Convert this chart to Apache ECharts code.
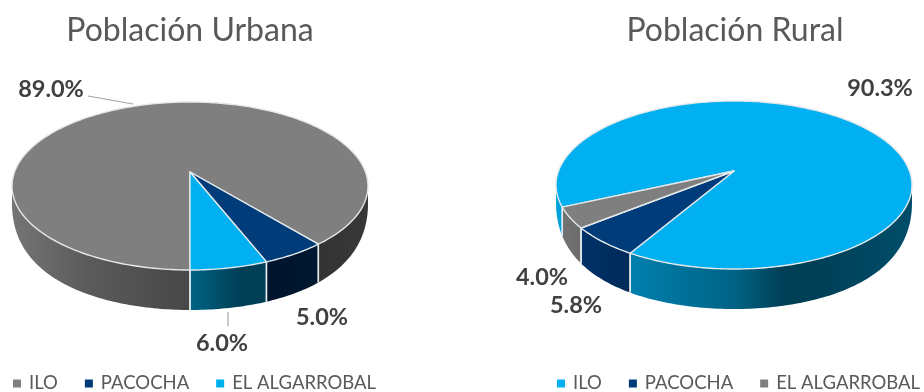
<!DOCTYPE html>
<html><head><meta charset="utf-8">
<style>html,body{margin:0;padding:0;background:#fff}#c{width:924px;height:392px;filter:blur(0.5px)}</style>
<script src="https://cdn.jsdelivr.net/npm/echarts@6/dist/echarts.min.js"></script></head>
<body><div id="c"></div>
<script>
const categories = ['ILO', 'PACOCHA', 'EL ALGARROBAL'];
const urbanaValues = [89.0, 5.0, 6.0];
const ruralValues = [90.3, 5.8, 4.0];
const urbanaTitle = 'Población Urbana';
const ruralTitle = 'Población Rural';

const GRAY = '#7f7f7f', NAVY = '#003b7a', BLUE = '#00b0f0';
const urbanaColors = [GRAY, NAVY, BLUE];
const ruralColors = [BLUE, NAVY, GRAY];

// Perspective model of the tilted disc
const A = 175.5, B = 81.67, K = 1 / 6, R = 178;
const depth = v => 40 - 32 * (1 - v) * (1 - v);
const VIS = Math.acos(K) * 180 / Math.PI;
const RAD = Math.PI / 180;
const SHADE = [[0, .92], [.21, .72], [.5, .56], [.64, .36], [.72, .36], [1, .44]];

function shaded(hex, f) {
  const n = parseInt(hex.slice(1), 16);
  return 'rgb(' + [(n >> 16) & 255, (n >> 8) & 255, n & 255].map(c => Math.round(c * f)).join(',') + ')';
}
function rim(cx, cy, phi) {
  const u = -Math.sin(phi * RAD), v = Math.cos(phi * RAD), d = 1 - K * v;
  return [cx + A * u / d, cy + B * v / d, v];
}
function arc(cx, cy, a, b) {
  const pts = [], n = Math.max(2, Math.ceil(Math.abs(b - a)));
  for (let i = 0; i <= n; i++) pts.push(rim(cx, cy, a + (b - a) * i / n));
  return pts;
}

const pies = [
  { values: urbanaValues, colors: urbanaColors, cx: 190, cy: 172, start: 0,
    labels: [[51, 89], [322, 317], [222, 343]],
    leaders: [[[88, 96], [133, 104]], null, [[228, 312], [228, 326]]] },
  { values: ruralValues, colors: ruralColors, cx: 734, cy: 171, start: 65.7,
    labels: [[880, 88], [576, 305], [542, 277]],
    leaders: [null, null, null] }
];

function makeRender(pie, idx) {
  return function (params, api) {
    const total = pie.values.reduce((a, b) => a + b, 0);
    let before = 0;
    for (let i = 0; i < idx; i++) before += pie.values[i];
    const val = api.value(0);
    const s = pie.start + before / total * 360, e = s + val / total * 360;
    const { cx, cy } = pie, color = pie.colors[idx], children = [];
    const fill = {
      type: 'linear', global: true, x: cx - R, y: 0, x2: cx + R, y2: 0,
      colorStops: SHADE.map(p => ({ offset: p[0], color: shaded(color, p[1]) }))
    };
    // visible outer wall
    for (const off of [0, 360, 720]) {
      const a = Math.max(s, off - VIS), b = Math.min(e, off + VIS);
      if (b <= a) continue;
      const top = arc(cx, cy, a, b);
      const low = top.map(p => [p[0], p[1] + depth(p[2])]).reverse();
      children.push({
        type: 'polygon', z2: 1,
        shape: { points: top.map(p => [p[0], p[1]]).concat(low) },
        style: { fill: fill, stroke: null }
      });
    }
    // wall separators at the slice boundaries
    for (const ang of [s, e]) {
      const p = rim(cx, cy, ang);
      if (p[2] >= K) children.push({
        type: 'line', z2: 2,
        shape: { x1: p[0], y1: p[1], x2: p[0], y2: p[1] + depth(p[2]) },
        style: { stroke: '#e6eef2', lineWidth: 1.4 }
      });
    }
    // top face
    const face = [[cx, cy]].concat(arc(cx, cy, s, e).map(p => [p[0], p[1]]));
    children.push({
      type: 'polygon', z2: 5 + (idx === 0 ? 0 : 1),
      shape: { points: face },
      style: { fill: color, stroke: '#e4e8ea', lineWidth: 1.4, lineJoin: 'round' }
    });
    // leader and label
    const lead = pie.leaders[idx];
    if (lead) children.push({
      type: 'polyline', z2: 3,
      shape: { points: lead },
      style: { fill: null, stroke: '#a6a6a6', lineWidth: 1.2 }
    });
    const lab = pie.labels[idx];
    children.push({
      type: 'text', z2: 8, x: lab[0], y: lab[1],
      style: {
        text: val.toFixed(1) + '%', fill: '#404040',
        font: 'bold 23.5px Lato, sans-serif', align: 'center', verticalAlign: 'middle'
      }
    });
    return { type: 'group', children };
  };
}

const series = [];
pies.forEach(pie => {
  pie.values.forEach((v, i) => {
    series.push({
      type: 'custom', coordinateSystem: 'none', name: categories[i],
      silent: true, data: [[v]], renderItem: makeRender(pie, i)
    });
  });
});

const legendBase = {
  orient: 'horizontal', icon: 'rect', itemWidth: 8, itemHeight: 8, itemGap: 27,
  selectedMode: false, top: 369, width: 400, padding: 5,
  textStyle: { color: '#595959', fontFamily: 'Lato, sans-serif', fontSize: 18.5, padding: [0, 0, 0, 3] }
};
const titleStyle = { color: '#595959', fontFamily: 'Lato, sans-serif', fontSize: 32, fontWeight: 'normal' };

const chart = echarts.init(document.getElementById('c'), null, { renderer: 'canvas' });
chart.setOption({
  backgroundColor: '#fff',
  animation: false,
  tooltip: { show: false },
  title: [
    { text: urbanaTitle, left: 185, top: 10, textAlign: 'center', textStyle: titleStyle },
    { text: ruralTitle, left: 730, top: 10, textAlign: 'center', textStyle: titleStyle }
  ],
  legend: [
    Object.assign({}, legendBase, { left: 8,
      data: categories.map((n, i) => ({ name: n, itemStyle: { color: urbanaColors[i] } })) }),
    Object.assign({}, legendBase, { left: 552,
      data: categories.map((n, i) => ({ name: n, itemStyle: { color: ruralColors[i] } })) })
  ],
  series
});
</script></body></html>
